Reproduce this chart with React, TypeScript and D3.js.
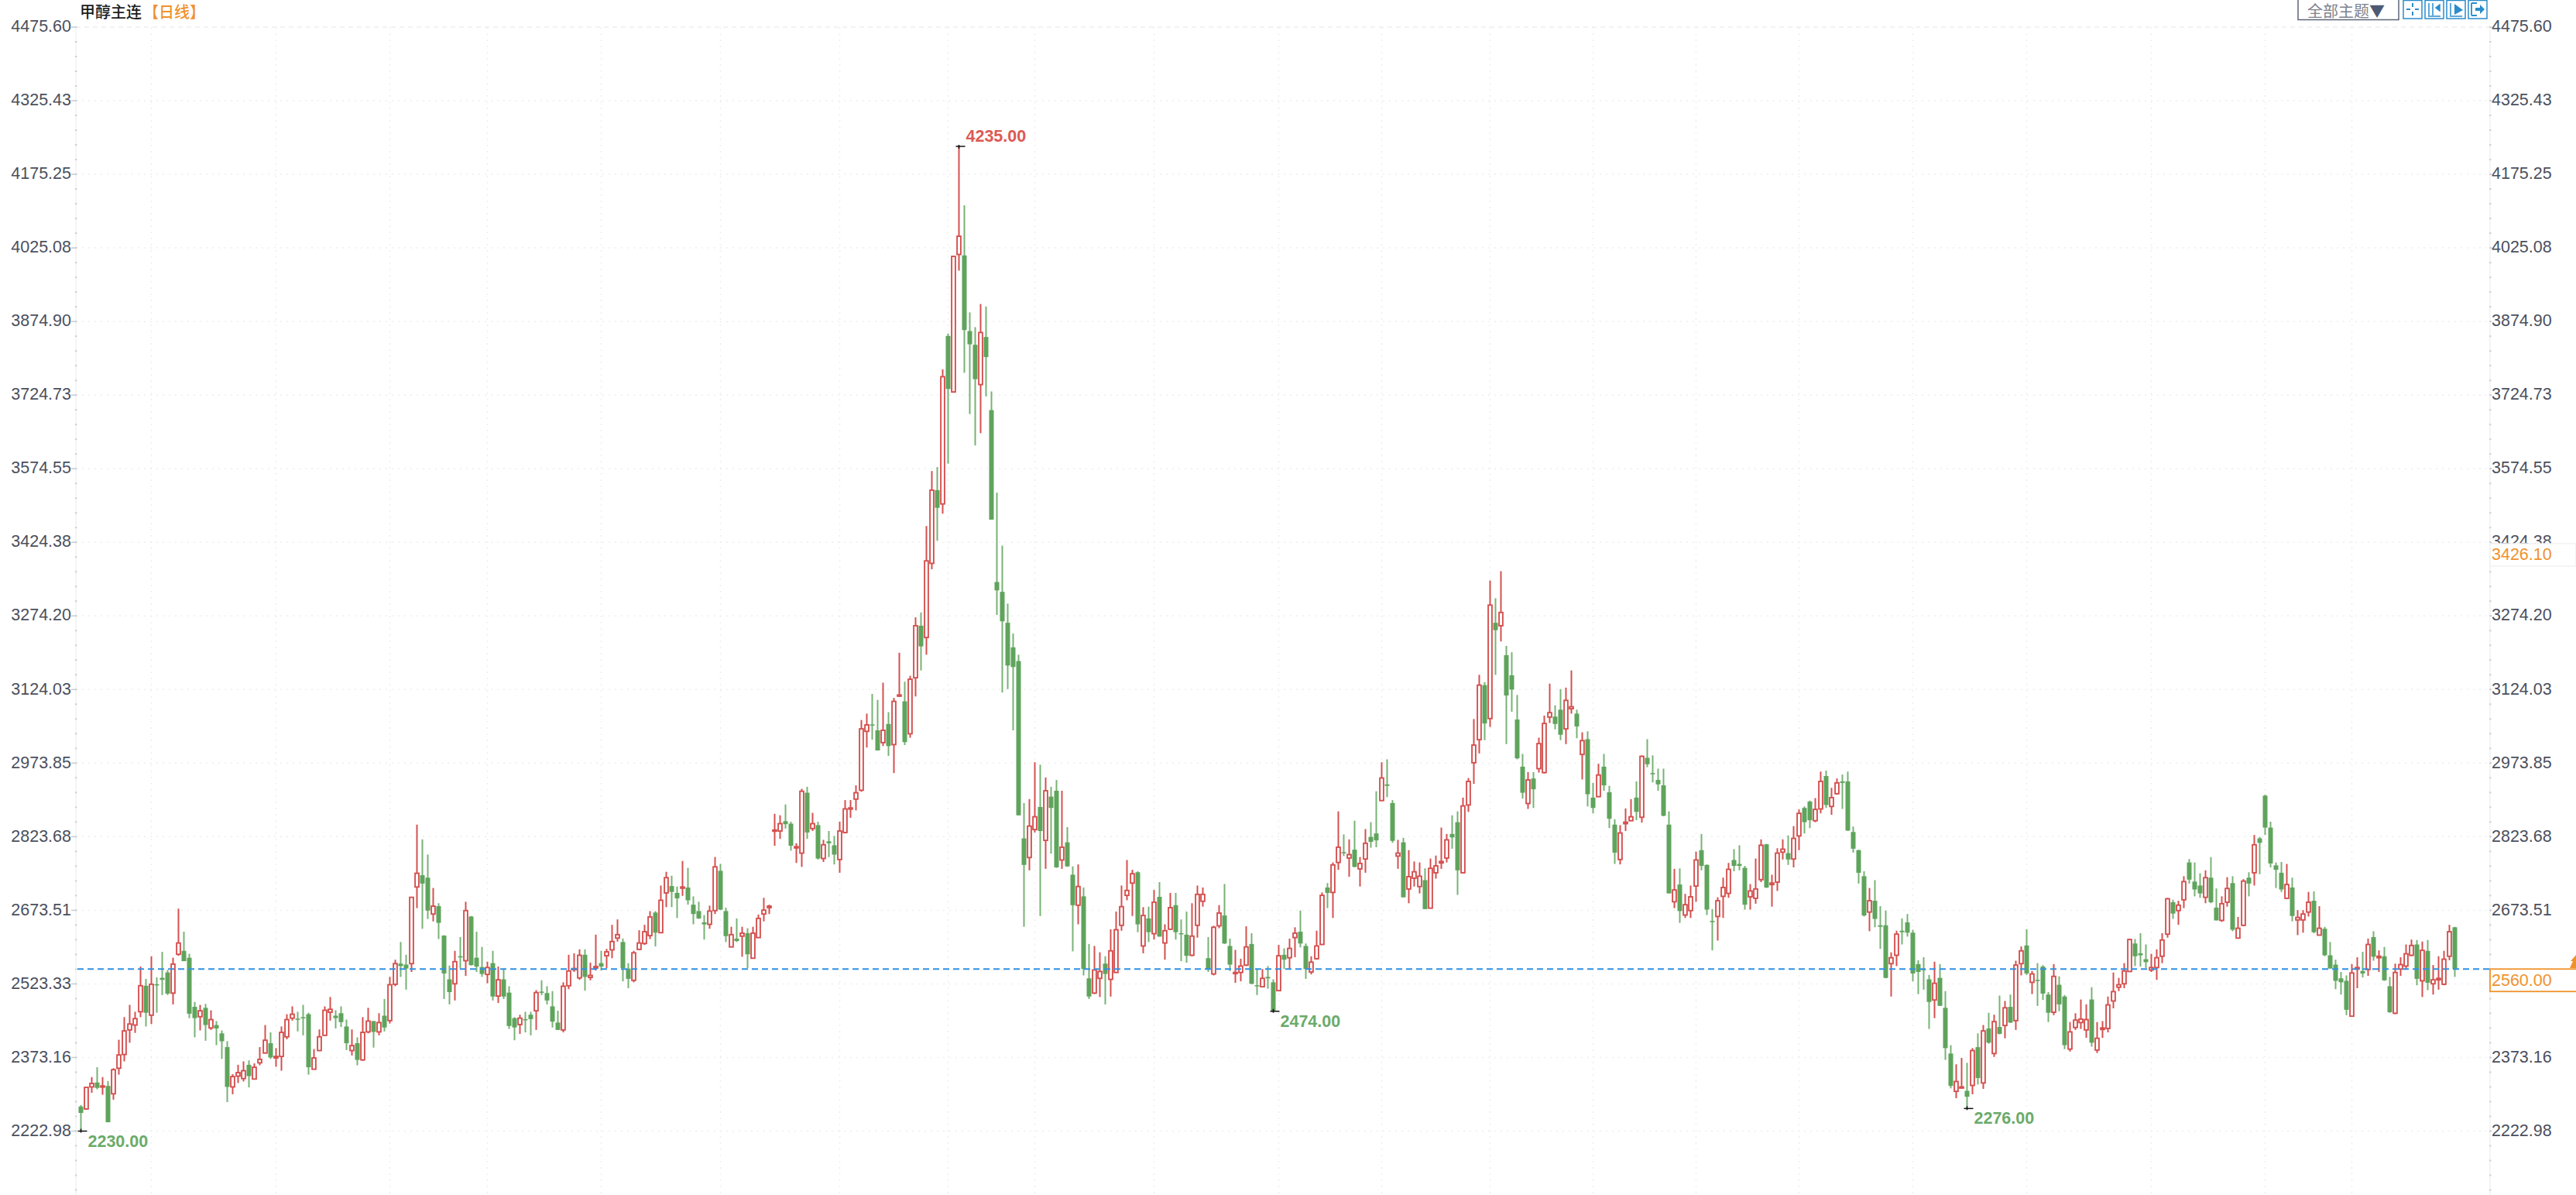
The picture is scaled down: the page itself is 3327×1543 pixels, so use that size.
import * as d3 from 'd3'

const opens = [
	2280,2275,2320,2329,2320,2322,2306,2358,2386,2436,
	2446,2473,2526,2466,2529,2542,2553,2511,2590,2597,
	2583,2483,2463,2481,2440,2446,2429,2401,2320,2342,
	2337,2365,2336,2369,2389,2409,2379,2382,2422,2460,
	2459,2462,2468,2356,2394,2425,2472,2465,2470,2443,
	2394,2409,2375,2432,2454,2432,2465,2455,2529,2571,
	2569,2571,2727,2751,2746,2672,2688,2628,2539,2530,
	2586,2577,2667,2583,2564,2549,2572,2505,2539,2512,
	2460,2447,2458,2467,2475,2514,2511,2484,2451,2436,
	2526,2560,2542,2589,2543,2562,2572,2587,2599,2623,
	2615,2561,2537,2600,2612,2628,2675,2634,2715,2729,
	2715,2725,2726,2691,2678,2655,2651,2679,2760,2678,
	2605,2622,2627,2633,2582,2624,2672,2685,2841,2841,
	2861,2856,2807,2796,2919,2846,2853,2785,2820,2812,
	2783,2838,2886,2906,2924,3044,3058,3046,3021,3059,
	3017,3116,3105,3039,3153,3259,3235,3386,3535,3507,
	3849,3735,4015,4013,3859,3831,3750,3847,3698,3348,
	3328,3265,3215,3187,2826,2787,2844,2890,2822,2911,
	2923,2782,2818,2752,2690,2708,2541,2511,2541,2571,
	2539,2553,2649,2710,2735,2757,2607,2663,2632,2707,
	2613,2641,2690,2633,2630,2588,2649,2698,2582,2550,
	2648,2669,2607,2552,2553,2568,2611,2527,2524,2544,
	2533,2516,2589,2583,2624,2636,2607,2554,2581,2610,
	2726,2716,2777,2798,2786,2803,2764,2784,2829,2836,
	2903,2936,2898,2790,2818,2723,2745,2728,2741,2684,
	2756,2776,2786,2835,2859,2756,2894,2980,3027,3138,
	3070,3265,3259,3199,3158,3068,2972,2897,2948,2968,
	2960,3073,3074,3088,3049,3090,3080,2997,3028,2909,
	2911,2972,2920,2854,2783,2856,2862,2909,2869,2990,
	2959,2945,2934,2854,2697,2732,2670,2679,2729,2802,
	2772,2658,2667,2708,2714,2782,2774,2766,2707,2704,
	2742,2814,2732,2737,2798,2796,2784,2831,2888,2901,
	2862,2886,2953,2891,2917,2942,2942,2839,2802,2749,
	2676,2699,2649,2649,2571,2588,2638,2655,2634,2570,
	2560,2539,2497,2542,2481,2388,2311,2318,2312,2323,
	2401,2328,2439,2388,2442,2445,2483,2455,2571,2608,
	2533,2538,2565,2508,2472,2528,2504,2397,2441,2451,
	2436,2498,2395,2437,2439,2495,2523,2530,2555,2612,
	2592,2580,2558,2563,2586,2631,2696,2679,2701,2777,
	2738,2730,2706,2746,2685,2659,2696,2735,2623,2649,
	2746,2756,2826,2913,2848,2771,2756,2704,2726,2660,
	2660,2676,2699,2629,2642,2588,2569,2541,2536,2464,
	2560,2556,2559,2625,2583,2586,2525,2470,2560,2566,
	2588,2610,2536,2597,2530,2538,2529,2586,2645,
]

const closes = [
	2267,2319,2327,2318,2322,2248,2355,2385,2434,2448,
	2459,2526,2471,2529,2527,2538,2510,2570,2613,2576,
	2469,2460,2475,2446,2457,2439,2413,2320,2341,2349,
	2353,2342,2360,2376,2415,2380,2382,2431,2457,2468,
	2458,2460,2360,2379,2422,2476,2478,2460,2452,2409,
	2404,2375,2431,2454,2432,2451,2441,2528,2571,2566,
	2561,2706,2755,2734,2679,2688,2654,2551,2513,2575,
	2585,2679,2568,2565,2550,2563,2504,2538,2504,2444,
	2441,2460,2457,2458,2512,2512,2496,2453,2436,2525,
	2556,2561,2588,2544,2547,2565,2565,2595,2616,2630,
	2562,2540,2593,2613,2636,2666,2634,2700,2746,2717,
	2704,2727,2700,2672,2663,2651,2678,2768,2681,2627,
	2630,2617,2633,2590,2633,2663,2680,2688,2843,2856,
	2855,2811,2809,2922,2838,2856,2785,2813,2816,2793,
	2841,2886,2888,2919,3049,3057,3056,3005,3046,3014,
	3105,3118,3022,3150,3259,3217,3391,3535,3499,3766,
	3741,4011,4052,3861,3832,3761,3856,3806,3475,3331,
	3268,3178,3175,2873,2772,2851,2870,2841,2923,2888,
	2767,2808,2769,2690,2728,2560,2504,2558,2555,2550,
	2597,2640,2687,2720,2754,2651,2669,2635,2696,2626,
	2638,2685,2635,2632,2587,2627,2712,2712,2560,2645,
	2674,2612,2569,2553,2566,2605,2530,2525,2541,2541,
	2474,2587,2579,2602,2633,2612,2560,2574,2607,2710,
	2715,2772,2808,2796,2793,2768,2775,2816,2819,2822,
	2949,2933,2821,2796,2706,2748,2758,2749,2682,2765,
	2770,2779,2823,2828,2761,2892,2942,3016,3138,3060,
	3301,3250,3286,3117,3129,2989,2919,2945,2926,3019,
	3060,3082,3059,3037,3107,3094,3054,3025,2916,2888,
	2955,2934,2866,2797,2837,2859,2870,2880,2993,2977,
	2958,2936,2872,2714,2721,2678,2691,2707,2782,2770,
	2681,2656,2699,2726,2763,2770,2770,2691,2719,2723,
	2812,2726,2735,2796,2804,2783,2826,2877,2859,2863,
	2885,2942,2894,2909,2939,2939,2842,2805,2756,2669,
	2699,2662,2646,2542,2583,2631,2635,2634,2551,2554,
	2558,2493,2531,2485,2399,2322,2331,2320,2300,2394,
	2338,2434,2410,2453,2428,2481,2451,2568,2597,2551,
	2550,2536,2510,2471,2545,2488,2405,2432,2456,2458,
	2457,2410,2419,2440,2487,2514,2528,2556,2620,2586,
	2588,2574,2563,2583,2619,2703,2673,2690,2738,2742,
	2722,2714,2746,2696,2659,2693,2724,2640,2643,2739,
	2734,2813,2817,2848,2775,2762,2722,2732,2668,2665,
	2672,2696,2635,2643,2588,2561,2536,2533,2477,2552,
	2563,2551,2610,2585,2586,2537,2472,2553,2569,2591,
	2608,2540,2598,2532,2538,2541,2580,2636,2560,
]

const highs = [
	2283,2319,2340,2360,2340,2332,2358,2416,2462,2487,
	2473,2565,2540,2586,2543,2595,2558,2583,2683,2636,
	2591,2493,2487,2489,2476,2454,2435,2413,2346,2365,
	2372,2374,2368,2401,2446,2431,2399,2443,2468,2484,
	2473,2487,2471,2397,2437,2484,2503,2476,2484,2457,
	2437,2421,2462,2481,2454,2470,2499,2544,2579,2615,
	2589,2707,2854,2824,2793,2725,2694,2629,2567,2597,
	2625,2697,2668,2636,2605,2575,2597,2565,2561,2525,
	2462,2467,2473,2473,2517,2537,2525,2515,2475,2533,
	2589,2592,2600,2600,2573,2630,2597,2601,2650,2661,
	2622,2572,2597,2639,2650,2678,2678,2730,2758,2750,
	2728,2780,2766,2708,2697,2670,2689,2788,2774,2685,
	2646,2663,2646,2643,2646,2671,2705,2691,2876,2873,
	2895,2860,2816,2927,2931,2878,2860,2823,2841,2831,
	2860,2904,2904,2934,3067,3080,3120,3108,3143,3083,
	3112,3204,3145,3157,3276,3286,3462,3574,3582,3781,
	3854,4011,4235,4115,3897,3867,3914,3909,3736,3530,
	3422,3304,3243,3200,2898,2906,2981,2976,2950,2931,
	2945,2923,2849,2769,2773,2726,2611,2607,2594,2586,
	2641,2677,2730,2782,2762,2759,2686,2687,2721,2737,
	2651,2715,2715,2661,2677,2694,2730,2726,2625,2648,
	2690,2733,2622,2599,2581,2647,2633,2561,2560,2566,
	2539,2609,2602,2622,2645,2679,2612,2586,2638,2716,
	2735,2777,2881,2834,2824,2862,2788,2845,2859,2922,
	2981,2987,2904,2823,2827,2802,2779,2777,2765,2785,
	2791,2848,2835,2873,2881,2909,2949,3069,3159,3144,
	3351,3315,3370,3218,3205,3118,2998,2961,2961,3031,
	3076,3141,3097,3130,3133,3168,3088,3042,3044,2939,
	2978,2998,2933,2865,2853,2887,2906,2942,2995,3028,
	2995,2968,2968,2881,2764,2765,2713,2730,2799,2835,
	2773,2682,2706,2746,2776,2804,2812,2770,2733,2785,
	2824,2815,2752,2806,2824,2832,2851,2885,2891,2903,
	2908,2962,2964,2929,2948,2956,2962,2850,2803,2759,
	2725,2741,2688,2679,2594,2638,2663,2672,2640,2578,
	2584,2548,2575,2570,2515,2405,2366,2379,2369,2399,
	2429,2446,2471,2467,2506,2495,2508,2577,2606,2641,
	2556,2572,2568,2513,2570,2545,2507,2452,2470,2498,
	2488,2523,2452,2454,2504,2553,2542,2572,2622,2621,
	2633,2610,2591,2600,2633,2705,2701,2699,2749,2784,
	2777,2755,2761,2788,2724,2708,2747,2749,2666,2743,
	2757,2833,2829,2915,2860,2777,2778,2774,2746,2680,
	2680,2717,2718,2688,2646,2615,2579,2554,2547,2570,
	2584,2595,2622,2637,2598,2605,2544,2571,2584,2610,
	2620,2619,2616,2619,2568,2586,2597,2650,2646,
]

const lows = [
	2230,2274,2308,2315,2304,2248,2294,2345,2372,2410,
	2430,2462,2443,2448,2471,2507,2507,2488,2587,2576,
	2460,2421,2435,2414,2436,2405,2377,2289,2305,2328,
	2331,2319,2336,2364,2388,2377,2361,2353,2417,2455,
	2433,2425,2345,2356,2393,2424,2455,2439,2442,2395,
	2384,2364,2373,2429,2400,2425,2433,2449,2525,2544,
	2518,2554,2684,2642,2662,2657,2621,2499,2488,2496,
	2561,2546,2567,2554,2544,2531,2496,2491,2499,2438,
	2415,2428,2431,2425,2436,2507,2488,2441,2436,2431,
	2519,2554,2538,2516,2537,2557,2557,2562,2582,2616,
	2535,2521,2533,2599,2609,2621,2606,2634,2686,2686,
	2664,2709,2691,2651,2662,2620,2642,2672,2680,2615,
	2605,2615,2585,2562,2582,2624,2657,2672,2811,2825,
	2846,2801,2776,2768,2825,2841,2783,2778,2788,2773,
	2756,2836,2868,2883,2921,3011,3027,3005,3014,2994,
	2959,3114,3016,3031,3115,3168,3200,3374,3432,3487,
	3589,3735,3982,3774,3690,3626,3651,3726,3475,3281,
	3123,3130,3046,2873,2646,2761,2838,2668,2764,2795,
	2766,2764,2768,2596,2651,2547,2499,2509,2503,2488,
	2504,2552,2638,2700,2668,2635,2592,2615,2620,2626,
	2579,2640,2620,2576,2573,2586,2624,2687,2554,2547,
	2643,2611,2556,2532,2535,2566,2529,2507,2524,2520,
	2474,2516,2560,2560,2584,2604,2540,2549,2579,2609,
	2684,2664,2762,2790,2748,2767,2728,2756,2807,2808,
	2903,2910,2817,2764,2706,2694,2728,2714,2682,2684,
	2744,2764,2777,2805,2711,2756,2880,2937,2999,3026,
	3053,3159,3227,3018,3084,2987,2907,2886,2888,2960,
	2958,3061,3048,3026,3018,3080,3030,2946,2891,2877,
	2910,2923,2847,2774,2773,2841,2861,2863,2858,2971,
	2940,2923,2871,2714,2684,2654,2664,2664,2697,2761,
	2670,2598,2618,2664,2705,2759,2761,2681,2681,2693,
	2737,2725,2687,2719,2783,2772,2767,2802,2836,2847,
	2859,2877,2888,2874,2915,2886,2841,2797,2734,2667,
	2637,2645,2601,2541,2504,2566,2610,2626,2535,2509,
	2518,2438,2460,2485,2375,2317,2297,2317,2276,2305,
	2325,2316,2408,2381,2427,2419,2450,2436,2547,2548,
	2509,2485,2497,2452,2466,2474,2397,2392,2436,2438,
	2420,2402,2389,2420,2431,2480,2515,2521,2555,2566,
	2565,2562,2554,2538,2572,2624,2662,2650,2684,2734,
	2708,2705,2694,2694,2659,2656,2687,2637,2622,2647,
	2708,2730,2753,2833,2767,2725,2717,2703,2657,2629,
	2634,2667,2633,2629,2586,2561,2519,2508,2466,2464,
	2521,2543,2546,2577,2554,2536,2471,2468,2546,2559,
	2586,2527,2503,2517,2508,2518,2527,2578,2544,
]

const tickLabels = [
	'4475.60','4325.43','4175.25','4025.08','3874.90','3724.73','3574.55','3424.38',
	'3274.20','3124.03','2973.85','2823.68','2673.51','2523.33','2373.16','2222.98',
]

// candle index where a new month starts, that is where the vertical grid sits
const monthStarts = [13,36,57,75,96,118,140,160,176,198,221,240,260,279,298,317,338,359,382,403,419]

const highMarks = [162]
const lowMarks = [0, 220, 348]
const lastPrice = 2560
const cursorPrice = 3426.1

const width = 3327
const height = 1543
const plotLeft = 98
const plotRight = 3216

const RED = '#d4504f'
const GREEN = '#5fa45c'
const ORANGE = '#f0922c'
const AXIS_TEXT = '#4b505d'
const GRID = '#eceef0'
const ICON = '#2b8ccb'
const SANS = '"Liberation Sans", Arial, sans-serif'
const CJK = '"Noto Sans CJK SC", sans-serif'

const App = () => {
	const x = d3.scaleLinear().domain([0, opens.length - 1]).range([104.5, 3170.5])
	// the labels on the axis do not sit on the same scale as the candles, same as in the original
	const y = d3.scaleLinear().domain([2230, 4235]).range([1460.5, 189])
	const tickY = d3.scaleLinear().domain([0, tickLabels.length - 1]).range([35, 1460.5])
	const tickStep = tickY(1) - tickY(0)

	const minorTicks = d3.range(35, height, tickStep / 5)

	return (
		<svg
			width={width}
			height={height}
			style={{ position: 'absolute', left: 0, top: 0, display: 'block', background: '#fff' }}
		>
			{/* grid */}
			{tickLabels.map((t, i) => (
				<line
					key={t}
					x1={plotLeft}
					x2={plotRight}
					y1={tickY(i)}
					y2={tickY(i)}
					stroke={GRID}
					strokeWidth={1.5}
					strokeDasharray={i === 0 ? '6 5' : '2 6'}
				/>
			))}
			{monthStarts.map(m => (
				<line
					key={m}
					x1={x(m)}
					x2={x(m)}
					y1={35}
					y2={height}
					stroke={GRID}
					strokeWidth={1.5}
					strokeDasharray="2 6"
				/>
			))}

			{/* axes */}
			{[plotLeft, plotRight].map(ax => (
				<g key={ax}>
					<line x1={ax} x2={ax} y1={35} y2={height} stroke="#f1f2f3" strokeWidth={1.5} />
					{minorTicks.map(t => (
						<rect key={t} x={ax - 1} y={t - 1} width={2.5} height={2} fill="#cfd2d6" />
					))}
				</g>
			))}
			{tickLabels.map((t, i) => (
				<g key={t} fontFamily={SANS} fontSize={21.5} fill={AXIS_TEXT}>
					<line x1={plotLeft - 6} x2={plotLeft} y1={tickY(i)} y2={tickY(i)} stroke="#c9ccd0" strokeWidth={1.5} />
					<line x1={plotRight} x2={plotRight + 2} y1={tickY(i)} y2={tickY(i)} stroke="#c9ccd0" strokeWidth={1.5} />
					<text x={92} y={tickY(i) - 0.8} textAnchor="end" dominantBaseline="central">
						{t}
					</text>
					<text x={3218} y={tickY(i) - 0.8} dominantBaseline="central">
						{t}
					</text>
				</g>
			))}

			{/* candles */}
			{opens.map((o, i) => {
				const c = closes[i]
				const up = c >= o
				const color = up ? RED : GREEN
				const top = y(Math.max(o, c))
				const h = Math.max(y(Math.min(o, c)) - top, 1.5)
				return (
					<g key={i}>
						<line
							x1={x(i)}
							x2={x(i)}
							y1={y(highs[i])}
							y2={y(lows[i])}
							stroke={color}
							strokeOpacity={up ? 1 : 0.85}
							strokeWidth={2}
						/>
						{up ? (
							<rect
								x={x(i) - 2.4}
								y={top}
								width={4.8}
								height={h}
								fill="#fff"
								stroke={color}
								strokeWidth={1.9}
							/>
						) : (
							<rect x={x(i) - 3} y={top} width={6} height={h} fill={color} />
						)}
					</g>
				)
			})}

			{/* last price line */}
			<line
				x1={plotLeft + 2}
				x2={plotRight}
				y1={y(lastPrice)}
				y2={y(lastPrice)}
				stroke="#2f90e4"
				strokeWidth={2.2}
				strokeDasharray="8 5"
			/>

			{/* high and low markers */}
			{highMarks.map(i => (
				<g key={i}>
					<line x1={x(i) - 4} x2={x(i) + 8} y1={y(highs[i])} y2={y(highs[i])} stroke="#111" strokeWidth={1.5} />
					<line x1={x(i)} x2={x(i)} y1={y(highs[i]) - 2} y2={y(highs[i]) + 3} stroke="#111" strokeWidth={1.5} />
					<text
						x={x(i) + 9}
						y={y(highs[i]) - 13}
						dominantBaseline="central"
						fontFamily={SANS}
						fontSize={21.5}
						fontWeight="bold"
						fill="#dc5a55"
					>
						{highs[i].toFixed(2)}
					</text>
				</g>
			))}
			{lowMarks.map(i => (
				<g key={i}>
					<line x1={x(i) - 4} x2={x(i) + 8} y1={y(lows[i])} y2={y(lows[i])} stroke="#111" strokeWidth={1.5} />
					<line x1={x(i)} x2={x(i)} y1={y(lows[i]) - 3} y2={y(lows[i]) + 2} stroke="#111" strokeWidth={1.5} />
					<text
						x={x(i) + 9}
						y={y(lows[i]) + 13}
						dominantBaseline="central"
						fontFamily={SANS}
						fontSize={21.5}
						fontWeight="bold"
						fill="#6bab6a"
					>
						{lows[i].toFixed(2)}
					</text>
				</g>
			))}

			{/* price tags on the right */}
			<rect x={plotRight} y={y(cursorPrice)} width={width - plotRight} height={29} fill="#fff" stroke="#f1f1f1" strokeWidth={1.5} />
			<text x={3218} y={y(cursorPrice) + 14.5} dominantBaseline="central" fontFamily={SANS} fontSize={21.5} fill={ORANGE}>
				{cursorPrice.toFixed(2)}
			</text>
			<rect x={plotRight} y={y(lastPrice)} width={width - plotRight + 2} height={29} fill="#fff" stroke={ORANGE} strokeWidth={1.8} />
			<text x={3218} y={y(lastPrice) + 15} dominantBaseline="central" fontFamily={SANS} fontSize={21.5} fill={ORANGE}>
				{lastPrice.toFixed(2)}
			</text>
			<path d="M3327 1233 L3320 1241 L3323 1241 L3319 1250 L3327 1250 Z" fill={ORANGE} />

			{/* title */}
			<text x={103} y={23} fontFamily={CJK} fontSize={20} fontWeight={500} fill="#1c1c1c">
				甲醇主连
			</text>
			<text x={185} y={23} fontFamily={CJK} fontSize={20} fontWeight={500} fill={ORANGE}>
				【日线】
			</text>

			{/* theme button and tool icons */}
			<rect x={2968} y={-2} width={130} height={27.5} fill="#fff" stroke="#5d6678" strokeWidth={1.5} />
			<text x={2980} y={22} fontFamily={CJK} fontSize={20} fill="#7c828d">
				全部主题<tspan fill="#4d5a73">▼</tspan>
			</text>
			{[3104, 3132, 3160, 3188].map(ix => (
				<rect key={ix} x={ix} y={0.5} width={24} height={23.5} fill="#fff" stroke={ICON} strokeWidth={1.5} />
			))}
			<path d="M3116 4 V9 M3116 15 V20 M3108 12 H3113 M3119 12 H3124" stroke={ICON} strokeWidth={2} fill="none" />
			<path d="M3137 4 V20 M3142 4 V20 M3136 21 H3152 M3151 6 L3146 10 L3151 14 Z" stroke={ICON} strokeWidth={1.5} fill={ICON} />
			<path d="M3165 4 V20 M3164 21 H3180" stroke={ICON} strokeWidth={1.5} fill="none" />
			<path d="M3170 5 L3181 13 L3170 19 Z" fill={ICON} />
			<path d="M3192 4 H3199 M3192 20 H3199 M3192 4 V20" stroke={ICON} strokeWidth={1.8} fill="none" />
			<path d="M3197 10 H3203 V6 L3209 12 L3203 18 V14 H3197 Z" fill={ICON} />
		</svg>
	)
}

export default App
